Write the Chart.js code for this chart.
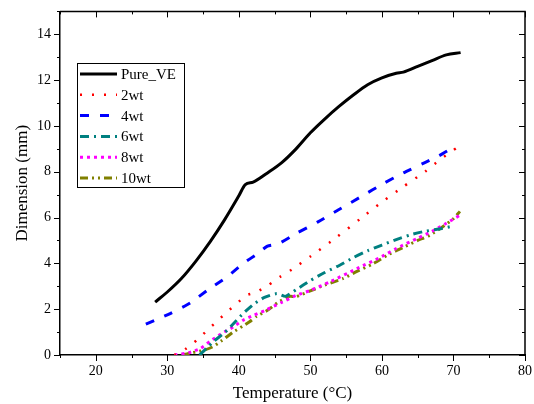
<!DOCTYPE html>
<html lang="en">
<head>
    <meta charset="UTF-8">
    <title>Dimension vs Temperature</title>
    <script src="https://cdn.jsdelivr.net/npm/chart.js"></script>
    <style>
        body { margin: 0; background: #fff; }
        canvas { display: block; }
    </style>
</head>
<body>
    <canvas id="myChart" width="534" height="404"></canvas>

    <script>
        // values
        const pureT = [28.3, 30, 32, 34, 36, 38, 40, 40.9, 42, 44, 46, 48, 50, 52, 54, 56, 58, 60, 62, 63, 65, 67, 69, 71];
        const pureD = [2.31, 2.75, 3.35, 4.1, 4.95, 5.9, 6.95, 7.44, 7.55, 7.95, 8.4, 9.0, 9.7, 10.3, 10.85, 11.35, 11.8, 12.1, 12.3, 12.35, 12.6, 12.85, 13.1, 13.2];

        const wt2T = [31, 32, 32.7, 34.1, 35.7, 37.1, 38.5, 39.7, 41, 42.5, 44.2, 45.75, 47.4, 50, 53.7, 57, 60, 63, 66, 68, 70.6];
        const wt2D = [0, 0.15, 0.3, 0.64, 1.11, 1.52, 1.92, 2.24, 2.6, 2.75, 3.07, 3.41, 3.73, 4.3, 5.15, 5.95, 6.68, 7.35, 8.0, 8.5, 9.08];

        const wt4T = [27, 28.5, 30.4, 33.2, 35.7, 38.3, 40.6, 42.5, 44, 45.5, 48, 51, 54, 57.4, 60, 63, 66, 68, 70.4];
        const wt4D = [1.35, 1.55, 1.81, 2.27, 2.85, 3.4, 3.99, 4.4, 4.75, 4.85, 5.3, 5.8, 6.35, 6.97, 7.45, 7.95, 8.4, 8.7, 9.15];

        const wt6T = [34.5, 35.5, 36.5, 38.1, 39.5, 40.6, 42, 43.5, 45.3, 46.5, 48, 50, 52, 54.1, 56, 58, 60, 62.1, 64, 66, 68, 69.5];
        const wt6D = [0, 0.3, 0.6, 1.0, 1.45, 1.81, 2.2, 2.5, 2.68, 2.56, 2.85, 3.25, 3.6, 3.92, 4.25, 4.55, 4.8, 5.05, 5.25, 5.4, 5.5, 5.6];

        const wt8T = [31, 33, 34.6, 36, 37.5, 39.2, 40.6, 42, 43.7, 46, 48, 50, 52.7, 56.5, 60, 62, 64.9, 67, 69, 70.9];
        const wt8D = [0, 0.1, 0.28, 0.6, 0.92, 1.22, 1.52, 1.72, 1.95, 2.3, 2.6, 2.82, 3.19, 3.77, 4.3, 4.65, 5.08, 5.4, 5.75, 6.1];

        const wt10T = [32, 33.5, 35, 36.3, 37.5, 39.2, 40.5, 41.5, 42.5, 44, 45.5, 47.1, 48, 50, 52, 54.6, 56.5, 58.8, 61, 63, 65, 66.7, 68.5, 70, 70.9];
        const wt10D = [0, 0.1, 0.2, 0.35, 0.6, 1.0, 1.25, 1.45, 1.69, 1.95, 2.3, 2.56, 2.55, 2.8, 3.05, 3.34, 3.65, 3.99, 4.4, 4.7, 5.0, 5.23, 5.6, 5.95, 6.27];

        const seriesNames = ['Pure_VE', '2wt', '4wt', '6wt', '8wt', '10wt'];

        const xTicksMin = 15, xTicksMax = 80;
        const yTicksMin = 0, yTicksMax = 15;

        function pts(xs, ys) {
            return xs.map((x, i) => ({ x: x, y: ys[i] }));
        }

        const serif = 'Liberation Serif, Times New Roman, serif';

        // frame, tick marks (major + minor) and legend box
        const framePlugin = {
            id: 'frame',
            afterDraw(chart) {
                const ctx = chart.ctx;
                const xs = chart.scales.x, ys = chart.scales.y;
                const L = xs.left, R = xs.right, T = ys.top, B = ys.bottom;
                ctx.save();
                ctx.strokeStyle = '#000';
                ctx.lineWidth = 1.5;
                ctx.beginPath();
                ctx.moveTo(L, T); ctx.lineTo(R, T); ctx.lineTo(R, B);
                ctx.stroke();
                ctx.lineWidth = 1;
                ctx.beginPath();
                for (let v = xTicksMin; v <= xTicksMax; v += 5) {
                    const p = Math.round(xs.getPixelForValue(v)) + 0.5;
                    const len = v % 10 === 0 ? 6 : 3;
                    ctx.moveTo(p, B); ctx.lineTo(p, B + len);
                    ctx.moveTo(p, T); ctx.lineTo(p, T + len);
                }
                for (let v = yTicksMin; v <= yTicksMax; v += 1) {
                    const p = Math.round(ys.getPixelForValue(v)) + 0.5;
                    const len = v % 2 === 0 ? 6 : 3;
                    ctx.moveTo(L - len, p); ctx.lineTo(L, p);
                    ctx.moveTo(R - len, p); ctx.lineTo(R, p);
                }
                ctx.stroke();

                // legend
                const bx = 77.5, by = 63.5, bw = 107, bh = 124;
                ctx.fillStyle = '#fff';
                ctx.fillRect(bx, by, bw, bh);
                ctx.lineWidth = 1;
                ctx.strokeRect(bx, by, bw, bh);
                ctx.font = '15px ' + serif;
                ctx.textBaseline = 'middle';
                chart.data.datasets.forEach((ds, i) => {
                    const cy = 74 + i * 20.8;
                    ctx.strokeStyle = ds.borderColor;
                    ctx.lineWidth = ds.borderWidth;
                    ctx.setLineDash(ds.borderDash || []);
                    ctx.beginPath();
                    ctx.moveTo(80, cy); ctx.lineTo(117, cy);
                    ctx.stroke();
                    ctx.setLineDash([]);
                    ctx.fillStyle = '#000';
                    ctx.fillText(ds.label, 121, cy + 1);
                });
                ctx.restore();
            }
        };

        const ctx = document.getElementById('myChart').getContext('2d');
        const myChart = new Chart(ctx, {
            type: 'line',
            data: {
                datasets: [
                    { label: seriesNames[0], data: pts(pureT, pureD), borderColor: '#000000', borderWidth: 3, cubicInterpolationMode: 'monotone' },
                    { label: seriesNames[1], data: pts(wt2T, wt2D), borderColor: '#ff0000', borderWidth: 2.5, borderDash: [2, 10] },
                    { label: seriesNames[2], data: pts(wt4T, wt4D), borderColor: '#0000ff', borderWidth: 3, borderDash: [9, 11] },
                    { label: seriesNames[3], data: pts(wt6T, wt6D), borderColor: '#008080', borderWidth: 3, borderDash: [9, 5, 2, 5] },
                    { label: seriesNames[4], data: pts(wt8T, wt8D), borderColor: '#ff00ff', borderWidth: 3, borderDash: [3, 4] },
                    { label: seriesNames[5], data: pts(wt10T, wt10D), borderColor: '#808000', borderWidth: 3, borderDash: [8, 4, 2, 4, 2, 4] }
                ]
            },
            options: {
                responsive: false,
                animation: false,
                events: [],
                layout: { padding: { top: 11, right: 9, left: 0, bottom: 0 } },
                elements: { point: { radius: 0 }, line: { tension: 0.2, fill: false } },
                plugins: { legend: { display: false }, tooltip: { enabled: false } },
                scales: {
                    x: {
                        type: 'linear',
                        min: xTicksMin,
                        max: xTicksMax,
                        afterFit: s => { s.height = 49; },
                        border: { color: '#000', width: 1.5 },
                        grid: { drawOnChartArea: false, tickLength: 6, tickColor: 'rgba(0,0,0,0)' },
                        ticks: {
                            stepSize: 5,
                            autoSkip: false,
                            maxRotation: 0,
                            padding: 2,
                            color: '#000',
                            font: { family: serif, size: 14 },
                            callback: v => (v % 10 === 0 ? v : '')
                        },
                        title: {
                            display: true,
                            text: 'Temperature (°C)',
                            color: '#000',
                            padding: { top: 0, bottom: 0 },
                            font: { family: serif, size: 17 }
                        }
                    },
                    y: {
                        min: yTicksMin,
                        max: yTicksMax,
                        afterFit: s => { s.width = 60; },
                        border: { color: '#000', width: 1.5 },
                        grid: { drawOnChartArea: false, tickLength: 6, tickColor: 'rgba(0,0,0,0)' },
                        ticks: {
                            stepSize: 1,
                            autoSkip: false,
                            padding: 3,
                            color: '#000',
                            font: { family: serif, size: 14 },
                            callback: v => (v % 2 === 0 ? v : '')
                        },
                        title: {
                            display: true,
                            text: 'Dimension (mm)',
                            color: '#000',
                            padding: { top: 12, bottom: 2 },
                            font: { family: serif, size: 17 }
                        }
                    }
                }
            },
            plugins: [framePlugin]
        });
    </script>
</body>
</html>
